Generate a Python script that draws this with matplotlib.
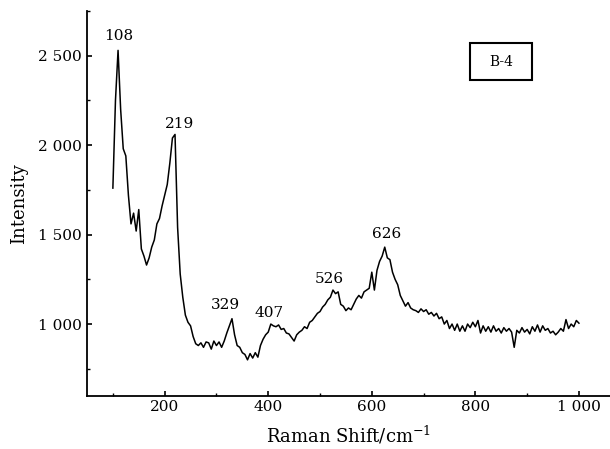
import numpy as np
import matplotlib
matplotlib.use("Agg")
import matplotlib.pyplot as plt
from matplotlib.patches import Rectangle
from matplotlib.ticker import MultipleLocator, FuncFormatter

# Raman spectrum of sample B-4, every 5 cm-1
shift = np.arange(100, 1001, 5)
intensity = [
    1760, 2250, 2530, 2200, 1980, 1940, 1720, 1560, 1620, 1520,   # 100-145
    1640, 1420, 1380, 1330, 1370, 1430, 1470, 1560, 1590, 1660,   # 150-195
    1720, 1780, 1900, 2040, 2060, 1540, 1280, 1150, 1050, 1010,   # 200-245
    990, 930, 890, 880, 895, 870, 900, 895, 860, 905,             # 250-295
    880, 900, 870, 905, 950, 990, 1030, 940, 880, 870,            # 300-345
    840, 830, 800, 835, 810, 840, 815, 880, 915, 940,             # 350-395
    955, 1000, 990, 985, 995, 970, 975, 950, 945, 925,            # 400-445
    905, 940, 955, 965, 985, 975, 1010, 1020, 1040, 1060,         # 450-495
    1070, 1095, 1110, 1135, 1150, 1190, 1170, 1180, 1110, 1100,   # 500-545
    1075, 1090, 1080, 1110, 1140, 1160, 1145, 1180, 1190, 1200,   # 550-595
    1290, 1190, 1300, 1350, 1380, 1430, 1370, 1360, 1290, 1250,   # 600-645
    1220, 1160, 1130, 1100, 1120, 1090, 1080, 1075, 1065, 1085,   # 650-695
    1070, 1080, 1055, 1065, 1045, 1060, 1030, 1040, 1000, 1020,   # 700-745
    975, 1000, 965, 1000, 960, 990, 960, 1000, 980, 1010,         # 750-795
    985, 1020, 950, 990, 960, 985, 955, 990, 960, 975,            # 800-845
    950, 980, 960, 975, 955, 870, 965, 950, 980, 955,             # 850-895
    970, 945, 985, 960, 995, 955, 990, 965, 975, 950,             # 900-945
    960, 940, 955, 975, 960, 1025, 975, 1000, 985, 1020,          # 950-995
    1005,                                                         # 1000
]

peak_labels = ["108", "219", "329", "407", "526", "626"]
label_x = [111, 229, 317, 401, 517, 629]
label_y = [2611, 2117, 1106, 1060, 1251, 1503]

plt.rcParams['font.family'] = 'DejaVu Serif'
plt.rcParams['mathtext.fontset'] = 'dejavuserif'

fig = plt.figure(figsize=(6.1, 4.49), dpi=100)
ax = fig.add_axes([0.1426, 0.1189, 0.8574, 0.8566])

ax.plot(shift, intensity, color='black', linewidth=1.1)

for txt, xx, yy in zip(peak_labels, label_x, label_y):
    ax.text(xx, yy, txt, ha='center', va='center', fontsize=11)

# sample tag box
ax.add_patch(Rectangle((0.7323, 0.8206), 0.1185, 0.0962, transform=ax.transAxes,
                       fill=False, edgecolor='black', linewidth=1.5))
ax.text(0.7916, 0.8687, "B-4", transform=ax.transAxes, ha='center', va='center',
        fontsize=10)

ax.set_xlim(50, 1060)
ax.set_ylim(600, 2750)
ax.spines['top'].set_visible(False)
ax.spines['right'].set_visible(False)
for s in ('left', 'bottom'):
    ax.spines[s].set_linewidth(1.3)

ax.xaxis.set_major_locator(MultipleLocator(200))
ax.xaxis.set_minor_locator(MultipleLocator(100))
ax.yaxis.set_major_locator(MultipleLocator(500))
ax.yaxis.set_minor_locator(MultipleLocator(250))
thousands = FuncFormatter(lambda v, p: "{:,}".format(int(v)).replace(",", " "))
ax.xaxis.set_major_formatter(thousands)
ax.yaxis.set_major_formatter(thousands)
ax.tick_params(which='major', direction='in', length=3.6, width=1.2, labelsize=11)
ax.tick_params(which='minor', direction='in', length=2.2, width=1.0)

ax.set_xlabel("Raman Shift/cm$^{-1}$", fontsize=13, labelpad=7)
ax.set_ylabel("Intensity", fontsize=13, labelpad=7)

fig.savefig("out.png", dpi=100)
